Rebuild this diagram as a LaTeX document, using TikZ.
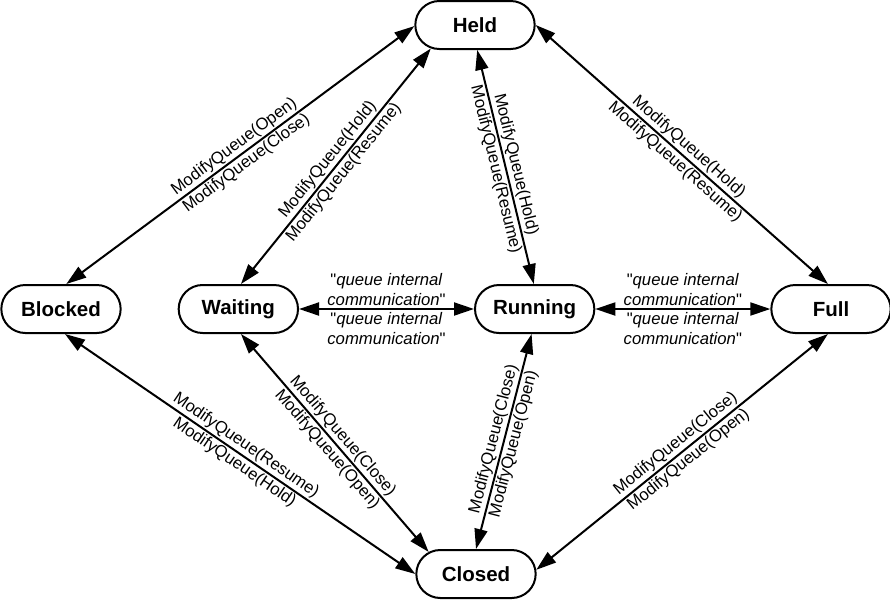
\documentclass[tikz,border=0pt]{standalone}
\usepackage{fontspec}
\setmainfont{Liberation Sans}[Ligatures=TeXOff]
\usetikzlibrary{arrows.meta,positioning,shapes.misc}

\tikzset{
  state/.style={rounded rectangle, draw, line width=2pt, minimum width=126pt,
    minimum height=48pt, font=\fontsize{20.5}{24}\selectfont\bfseries},
  trans/.style={{Triangle[length=20pt,width=13pt]}-{Triangle[length=20pt,width=13pt]}, line width=2pt},
  lbl/.style={font=\fontsize{16.7}{20}\selectfont, inner sep=1.5pt, sloped, midway},
  comm/.style={font=\fontsize{16.7}{20}\selectfont, inner sep=2.5pt, align=center, midway}
}

\begin{document}
\begin{tikzpicture}[x=1pt,y=-1pt]
\useasboundingbox (0,0) rectangle (890,600);

% states
\node[state] (blocked) at (61,309) {Blocked};
\node[state] (waiting) [right = 56pt of blocked] {Waiting};
\node[state] (running) [right = 175pt of waiting] {Running};
\node[state] (full) [right = 175pt of running] {Full};
\node[state] (held) at (475,25) {Held};
\node[state] (closed) at (476,574) {Closed};

% transitions
\draw[trans] (blocked.78) -- node[lbl,above] {ModifyQueue(Open)} node[lbl,below] {ModifyQueue(Close)} (held.181);
\draw[trans] (waiting.84) -- node[lbl,above] {ModifyQueue(Hold)} node[lbl,below] {ModifyQueue(Resume)} (held.208);
\draw[trans] (held.275) -- node[lbl,above] {ModifyQueue(Hold)} node[lbl,below] {ModifyQueue(Resume)} (running.92);
\draw[trans] (held.east) -- node[lbl,above] {ModifyQueue(Hold)} node[lbl,below] {ModifyQueue(Resume)} (full.97);
\draw[trans] (waiting.east) -- node[comm,above] {"\textit{queue internal}\\\textit{communication}"}
  node[comm,below] {"\textit{queue internal}\\\textit{communication}"} (running.west);
\draw[trans] (running.east) -- node[comm,above] {"\textit{queue internal}\\\textit{communication}"}
  node[comm,below] {"\textit{queue internal}\\\textit{communication}"} (full.west);
\draw[trans] (blocked.279) -- node[lbl,above] {ModifyQueue(Resume)} node[lbl,below] {ModifyQueue(Hold)} (closed.west);
\draw[trans] (waiting.276) -- node[lbl,above] {ModifyQueue(Close)} node[lbl,below] {ModifyQueue(Open)} (closed.155);
\draw[trans] (closed.north) -- node[lbl,above] {ModifyQueue(Close)} node[lbl,below] {ModifyQueue(Open)} (running.263);
\draw[trans] (closed.4) -- node[lbl,above] {ModifyQueue(Close)} node[lbl,below] {ModifyQueue(Open)} (full.263);
\end{tikzpicture}
\end{document}
